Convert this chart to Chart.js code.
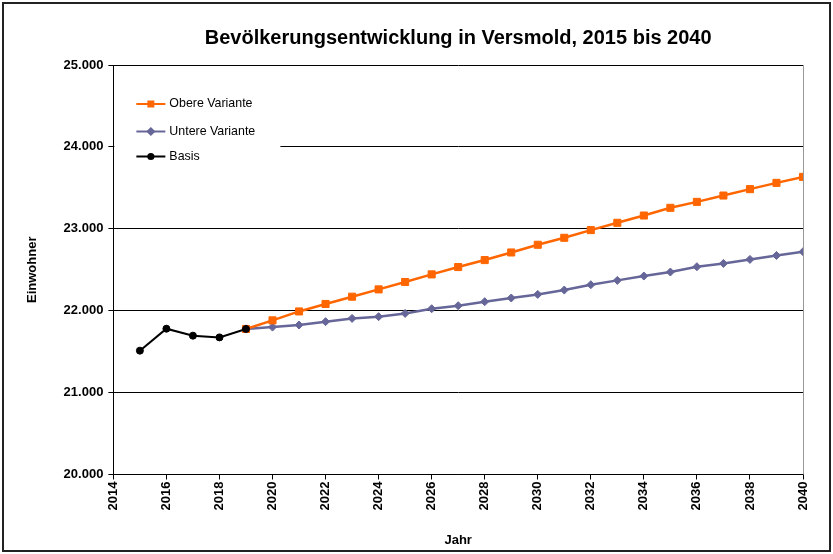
<!DOCTYPE html>
<html>
<head>
<meta charset="utf-8">
<script src="https://cdn.jsdelivr.net/npm/chart.js@4.4.1/dist/chart.umd.min.js"></script>
<style>
  html, body { margin: 0; padding: 0; background: #fff; }
  #wrap { width: 833px; height: 554px; }
</style>
</head>
<body>
<div id="wrap"><canvas id="popChart" width="833" height="554"></canvas></div>
<script>
// Bevölkerung Versmold: Basis (Ist-Werte) und zwei Vorausberechnungsvarianten
var basisYears = [2015, 2016, 2017, 2018, 2019];
var basisValues = [21512, 21780, 21695, 21674, 21777];

var variantYears = [2019, 2020, 2021, 2022, 2023, 2024, 2025, 2026, 2027, 2028, 2029,
                    2030, 2031, 2032, 2033, 2034, 2035, 2036, 2037, 2038, 2039, 2040];
var obereValues = [21777, 21882, 21991, 22082, 22171, 22260, 22350, 22443, 22533, 22618, 22711,
                   22805, 22890, 22984, 23073, 23162, 23256, 23329, 23406, 23484, 23561, 23634];
var untereValues = [21777, 21800, 21825, 21866, 21906, 21927, 21967, 22024, 22061, 22110, 22155,
                    22199, 22252, 22317, 22370, 22423, 22472, 22537, 22577, 22626, 22674, 22720];

var xTicks = [2014, 2016, 2018, 2020, 2022, 2024, 2026, 2028, 2030, 2032, 2034, 2036, 2038, 2040];
var yTicks = [20000, 21000, 22000, 23000, 24000, 25000];

function pairs(xs, ys) {
    return xs.map(function(x, i) { return { x: x, y: ys[i] }; });
}

// Tausenderpunkt wie in deutschen Tabellen
function fmtDe(v) {
    return String(v).replace(/\B(?=(\d{3})+(?!\d))/g, '.');
}

Chart.defaults.font.family = '"Liberation Sans", Arial, sans-serif';
Chart.defaults.color = '#000';

// Rahmen um die ganze Grafik, rechter Rand der Zeichenfläche und Legende im Diagramm
var framePlugin = {
    id: 'frame',
    beforeDraw: function(chart) {
        var c = chart.ctx;
        c.save();
        c.fillStyle = '#fff';
        c.fillRect(0, 0, chart.width, chart.height);
        c.strokeStyle = '#222';
        c.lineWidth = 2;
        c.strokeRect(3, 3, chart.width - 6, chart.height - 6);
        c.restore();
    },
    afterDatasetsDraw: function(chart) {
        var c = chart.ctx, a = chart.chartArea;
        c.save();
        c.strokeStyle = '#999';
        c.lineWidth = 1;
        c.beginPath();
        c.moveTo(a.right + 0.5, a.top);
        c.lineTo(a.right + 0.5, a.bottom);
        c.stroke();

        // Legende
        c.fillStyle = '#fff';
        c.fillRect(a.left + 1, a.top + 20, 166, 92);
        var rows = [2, 1, 0];
        var rowY = [39, 66.5, 91.5];
        var markR = [3.5, 3.2, 2.6];
        rows.forEach(function(di, i) {
            var ds = chart.data.datasets[di];
            var y = a.top + rowY[i];
            var x0 = a.left + 23, x1 = a.left + 52;
            c.strokeStyle = ds.borderColor;
            c.lineWidth = 2;
            c.beginPath();
            c.moveTo(x0, y);
            c.lineTo(x1, y);
            c.stroke();
            c.fillStyle = ds.backgroundColor;
            c.strokeStyle = ds.borderColor;
            Chart.helpers.drawPoint(c, {
                pointStyle: ds.pointStyle,
                radius: markR[i],
                borderWidth: 1,
                rotation: 0
            }, (x0 + x1) / 2, y);
            c.fillStyle = '#000';
            c.font = '12.4px "Liberation Sans", Arial, sans-serif';
            c.textBaseline = 'middle';
            c.textAlign = 'left';
            c.fillText(ds.label, x1 + 4, y);
        });
        c.restore();
    }
};

var ctx = document.getElementById('popChart').getContext('2d');
var popChart = new Chart(ctx, {
    type: 'line',
    data: {
        datasets: [
            {
                label: 'Basis',
                data: pairs(basisYears, basisValues),
                borderColor: '#000',
                backgroundColor: '#000',
                borderWidth: 2,
                pointStyle: 'circle',
                pointRadius: 3.5,
                pointBorderWidth: 1,
                order: 0
            },
            {
                label: 'Untere Variante',
                data: pairs(variantYears, untereValues),
                borderColor: '#666699',
                backgroundColor: '#666699',
                borderWidth: 2.5,
                pointStyle: 'rectRot',
                pointRadius: 4,
                pointBorderWidth: 1,
                order: 2
            },
            {
                label: 'Obere Variante',
                data: pairs(variantYears, obereValues),
                borderColor: '#ff6600',
                backgroundColor: '#ff6600',
                borderWidth: 2.5,
                pointStyle: 'rect',
                pointRadius: 5,
                pointBorderWidth: 1,
                order: 1
            }
        ]
    },
    options: {
        responsive: false,
        animation: false,
        events: [],
        layout: { padding: { left: 25, right: 30, top: 26, bottom: 6 } },
        elements: { line: { tension: 0 } },
        plugins: {
            legend: { display: false },
            tooltip: { enabled: false },
            title: {
                display: true,
                fullSize: false,
                text: 'Bevölkerungsentwicklung in Versmold, 2015 bis 2040',
                font: { size: 20, weight: 'bold' },
                color: '#000',
                padding: { top: 0, bottom: 15 }
            }
        },
        scales: {
            x: {
                type: 'linear',
                min: 2014,
                max: 2040,
                afterBuildTicks: function(axis) {
                    axis.ticks = xTicks.map(function(v) { return { value: v }; });
                },
                border: { color: '#000', width: 1 },
                grid: { drawOnChartArea: false, drawTicks: true, tickLength: 5, tickColor: '#000' },
                ticks: {
                    minRotation: 90,
                    maxRotation: 90,
                    padding: 2,
                    font: { size: 13, weight: 'bold' },
                    callback: function(v) { return String(v); }
                },
                title: {
                    display: true,
                    text: 'Jahr',
                    font: { size: 13, weight: 'bold' },
                    padding: { top: 20, bottom: 0 }
                }
            },
            y: {
                min: 20000,
                max: 25000,
                afterBuildTicks: function(axis) {
                    axis.ticks = yTicks.map(function(v) { return { value: v }; });
                },
                border: { color: '#000', width: 1 },
                grid: { color: '#000', lineWidth: 1, tickLength: 5, tickColor: '#000' },
                ticks: {
                    padding: 5,
                    font: { size: 13, weight: 'bold' },
                    callback: function(v) { return fmtDe(v); }
                },
                title: {
                    display: true,
                    text: 'Einwohner',
                    font: { size: 13, weight: 'bold' },
                    padding: { top: 0, bottom: 18 }
                }
            }
        }
    },
    plugins: [framePlugin]
});
</script>
</body>
</html>
